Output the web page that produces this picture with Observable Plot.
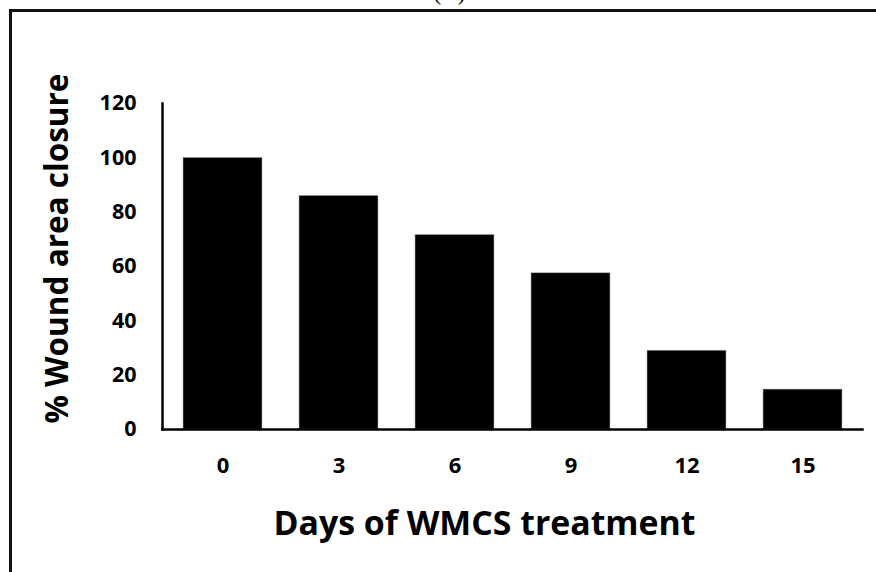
<!DOCTYPE html>
<html><head><meta charset="utf-8">
<script src="https://cdn.jsdelivr.net/npm/d3@7"></script>
<script src="https://cdn.jsdelivr.net/npm/@observablehq/plot@0.6"></script>
<style>
html,body{margin:0;padding:0;background:#fff;}
#wrap{position:relative;width:876px;height:572px;overflow:hidden;}
#frame{position:absolute;left:9px;top:9px;width:900px;height:600px;border-top:3px solid #111;border-left:3px solid #111;pointer-events:none;}
</style></head><body>
<div id="wrap"><div id="chart"></div><div id="frame"></div></div>
<script>
const days = ["0", "3", "6", "9", "12", "15"];
const closure = [100, 86, 71.6, 57.5, 29, 14.7];
const yTicks = [0, 20, 40, 60, 80, 100, 120];
const xTitle = "Days of WMCS treatment";
const yTitle = "% Wound area closure";
const panelLabel = "(A)";
const data = days.map((d, i) => ({day: d, value: closure[i]}));

const font = "'Open Sans', sans-serif";
const chart = Plot.plot({
  width: 876, height: 572,
  marginLeft: 162, marginRight: 14, marginTop: 103, marginBottom: 143,
  style: {fontFamily: font, background: "#fff", color: "#000", overflow: "visible"},
  x: {domain: days, paddingInner: 0.32, paddingOuter: 0.16},
  y: {domain: [0, 120]},
  marks: [
    Plot.barY(data, {x: "day", y: "value", fill: "#000", stroke: "#aaa", strokeWidth: 0.6}),
    Plot.frame({anchor: "left", stroke: "#000", strokeWidth: 2.5}),
    Plot.frame({anchor: "bottom", stroke: "#000", strokeWidth: 2.5}),
    Plot.axisY({ticks: yTicks, tickSize: 0, tickPadding: 26, fontSize: 21.5, fontWeight: "bold", label: null}),
    Plot.axisX({tickSize: 0, tickPadding: 28, fontSize: 22, fontWeight: "bold", label: null}),
    Plot.text([xTitle], {frameAnchor: "bottom", textAnchor: "middle", dx: -28, dy: 95, lineAnchor: "middle", fontSize: 32, fontWeight: "bold", fill: "#000"}),
    Plot.text([yTitle], {frameAnchor: "left", textAnchor: "middle", rotate: -90, dx: -105, dy: -18, lineAnchor: "middle", fontSize: 27, fontWeight: "bold", fill: "#000"}),
    Plot.text([panelLabel], {frameAnchor: "top", textAnchor: "middle", dx: -63, dy: -110.5, lineAnchor: "middle", fontSize: 23, fontFamily: "'Liberation Serif', serif", fill: "#000"})
  ]
});
document.getElementById("chart").appendChild(chart);

// fit title font sizes to the reference widths
const targets = {[xTitle]: 422, [yTitle]: 350};
chart.querySelectorAll("text").forEach(t => {
  const w = targets[t.textContent];
  if (w) {
    const len = t.getComputedTextLength();
    const fs = parseFloat(getComputedStyle(t).fontSize);
    if (len > 0) t.style.fontSize = (fs * w / len).toFixed(2) + "px";
  }
});
</script>
</body></html>
